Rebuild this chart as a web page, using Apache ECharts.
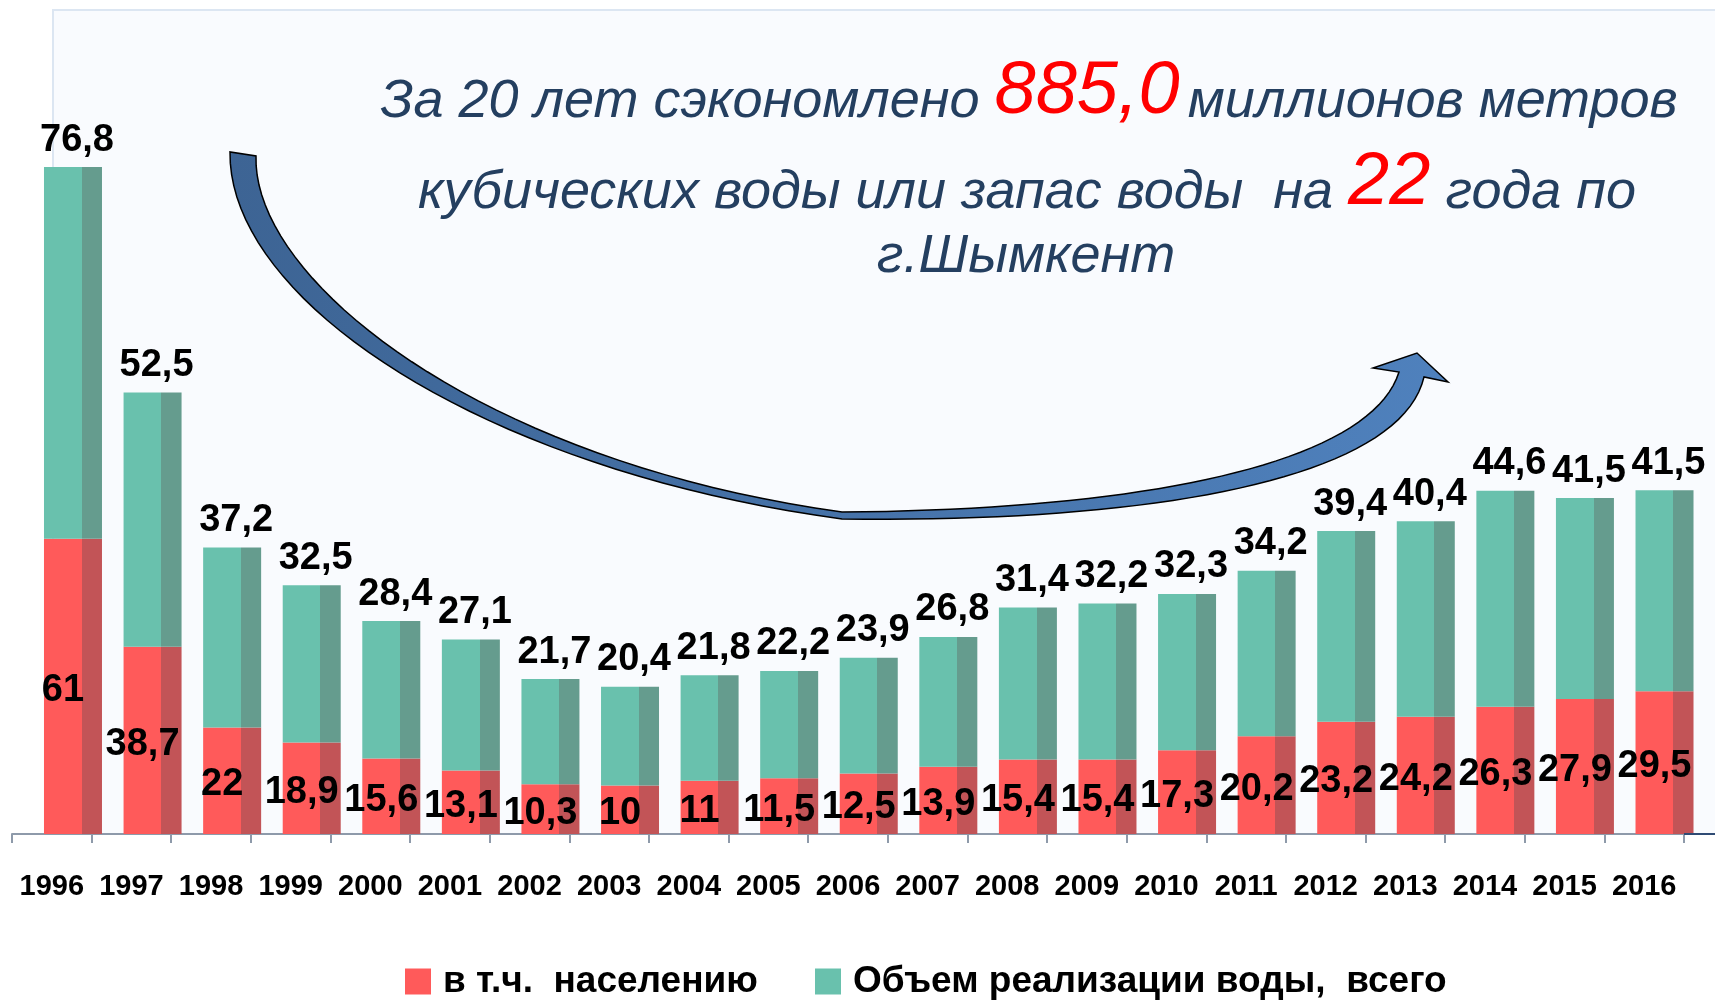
<!DOCTYPE html>
<html>
<head>
<meta charset="utf-8">
<script src="https://cdn.jsdelivr.net/npm/echarts@6/dist/echarts.min.js"></script>
<style>
  html, body { margin: 0; padding: 0; background: #fff; }
  #chart { width: 1715px; height: 1005px; }
</style>
</head>
<body>
<div id="chart"></div>
<script>
// years on the axis
const years = ['1996', '1997', '1998', '1999', '2000', '2001', '2002', '2003', '2004', '2005', '2006',
  '2007', '2008', '2009', '2010', '2011', '2012', '2013', '2014', '2015', '2016'];
// в т.ч. населению
const population = [61, 38.7, 22, 18.9, 15.6, 13.1, 10.3, 10, 11, 11.5, 12.5,
  13.9, 15.4, 15.4, 17.3, 20.2, 23.2, 24.2, 26.3, 27.9, 29.5];
// Объем реализации воды, всего
const totalSales = [76.8, 52.5, 37.2, 32.5, 28.4, 27.1, 21.7, 20.4, 21.8, 22.2, 23.9,
  26.8, 31.4, 32.2, 32.3, 34.2, 39.4, 40.4, 44.6, 41.5, 41.5];

const nameRed = 'в т.ч.  населению';
const nameGreen = 'Объем реализации воды,  всего';

const sans = "'Liberation Sans', Arial, sans-serif";

// flat bar with darker right side
const shaded = (light, dark) => ({
  type: 'linear', x: 0, y: 0, x2: 1, y2: 0,
  colorStops: [
    {offset: 0, color: light}, {offset: 0.65, color: light},
    {offset: 0.65, color: dark}, {offset: 1, color: dark}
  ]
});

const fmt = (p) => String(p.value).replace('.', ',');

// sample a cubic bezier for the decorative arrow outline
const bez = (p0, p1, p2, p3, n) => {
  const pts = [];
  for (let i = 0; i <= n; i++) {
    const t = i / n, u = 1 - t;
    pts.push([
      u * u * u * p0[0] + 3 * u * u * t * p1[0] + 3 * u * t * t * p2[0] + t * t * t * p3[0],
      u * u * u * p0[1] + 3 * u * u * t * p1[1] + 3 * u * t * t * p2[1] + t * t * t * p3[1]
    ]);
  }
  return pts;
};

const arrowPts = [].concat(
  bez([230, 152], [228, 300], [480, 470], [842, 519], 40),
  bez([842, 519], [1150, 523], [1400, 480], [1424, 377], 40),
  [[1448, 382], [1417, 353], [1373, 368], [1399, 372]],
  bez([1399, 372], [1370, 465], [1140, 510], [842, 512], 40),
  bez([842, 512], [480, 462], [252, 280], [256, 156], 40)
);

const chart = echarts.init(document.getElementById('chart'));

const titleRich = {
  n: {fontSize: 54, fontStyle: 'italic', fontFamily: sans, fill: '#243F60', lineHeight: 80, verticalAlign: 'bottom'},
  r: {fontSize: 74, fontStyle: 'italic', fontFamily: sans, fill: '#FF0000', lineHeight: 80, verticalAlign: 'bottom', padding: [0, 8, 0, 0]},
  r2: {fontSize: 74, fontStyle: 'italic', fontFamily: sans, fill: '#FF0000', lineHeight: 80, verticalAlign: 'bottom'}
};

const legendText = {
  fontSize: 37, fontWeight: 'bold', fontFamily: sans, color: '#000',
  lineHeight: 37, padding: [32, 0, 0, 7]
};

const option = {
  backgroundColor: '#ffffff',
  animation: false,
  grid: [
    {left: 33.2, right: 10.7, top: 59.6, bottom: 171},
    {left: 12, right: 31, top: 59.6, bottom: 171}
  ],
  xAxis: [
    {
      type: 'category', gridIndex: 0, data: years,
      axisLine: {show: false}, axisTick: {show: false}, axisLabel: {show: false}
    },
    {
      type: 'category', gridIndex: 1, data: years,
      axisLine: {show: true, lineStyle: {color: '#8E9AAA', width: 2}},
      axisTick: {show: true, length: 9, lineStyle: {color: '#8E9AAA', width: 2}},
      axisLabel: {
        interval: 0, margin: 38, fontSize: 29, fontWeight: 'bold', fontFamily: sans, color: '#000'
      }
    }
  ],
  yAxis: [
    {type: 'value', gridIndex: 0, min: 0, max: 160, show: false},
    {type: 'value', gridIndex: 1, min: 0, max: 160, show: false}
  ],
  legend: [
    {
      left: 405, top: 947, padding: 0, itemWidth: 26, itemHeight: 26, icon: 'rect',
      data: [{name: nameRed, itemStyle: {color: '#FF5A5A'}}],
      textStyle: legendText
    },
    {
      left: 815, top: 947, padding: 0, itemWidth: 26, itemHeight: 26, icon: 'rect',
      data: [{name: nameGreen, itemStyle: {color: '#69C1AD'}}],
      textStyle: legendText
    }
  ],
  graphic: [
    {
      type: 'rect', z: 0, silent: true,
      shape: {x: 53, y: 10, width: 1700, height: 824},
      style: {fill: '#F9FBFE', stroke: '#DCE6F2', lineWidth: 2}
    },
    {
      type: 'line', z: 5, silent: true,
      shape: {x1: 1684, y1: 834, x2: 1715, y2: 834},
      style: {stroke: '#2F4B74', lineWidth: 2}
    },
    {
      type: 'polygon', z: 10, silent: true,
      shape: {points: arrowPts},
      style: {
        fill: {
          type: 'linear', x: 0, y: 0, x2: 1, y2: 0,
          colorStops: [{offset: 0, color: '#3D6494'}, {offset: 1, color: '#4F81BD'}]
        },
        stroke: '#000', lineWidth: 1.5, lineJoin: 'miter'
      }
    },
    {
      type: 'text', z: 10, silent: true, x: 1029, y: 129,
      style: {
        text: '{n|За 20 лет сэкономлено }{r|885,0}{n|миллионов метров}',
        rich: titleRich, align: 'center', verticalAlign: 'bottom'
      }
    },
    {
      type: 'text', z: 10, silent: true, x: 1027, y: 220,
      style: {
        text: '{n|кубических воды или запас воды  на }{r2|22}{n| года по}',
        rich: titleRich, align: 'center', verticalAlign: 'bottom'
      }
    },
    {
      type: 'text', z: 10, silent: true, x: 1026, y: 284,
      style: {
        text: '{n|г.Шымкент}',
        rich: titleRich, align: 'center', verticalAlign: 'bottom'
      }
    }
  ],
  series: [
    {
      name: nameRed, type: 'bar', stack: 'v', xAxisIndex: 0, yAxisIndex: 0,
      data: population, barWidth: 58,
      itemStyle: {color: shaded('#FF5A5A', '#C25457')},
      label: {
        show: true, position: 'inside', offset: [-10, 4], formatter: fmt,
        fontSize: 38, fontWeight: 'bold', fontFamily: sans, color: '#000'
      }
    },
    {
      name: nameGreen, type: 'bar', stack: 'v', xAxisIndex: 0, yAxisIndex: 0,
      data: totalSales, barWidth: 58,
      itemStyle: {color: shaded('#69C1AD', '#659C8E')},
      label: {
        show: true, position: 'top', distance: 8, offset: [4, 0], formatter: fmt,
        fontSize: 38, fontWeight: 'bold', fontFamily: sans, color: '#000'
      }
    }
  ]
};

chart.setOption(option);
</script>
</body>
</html>
